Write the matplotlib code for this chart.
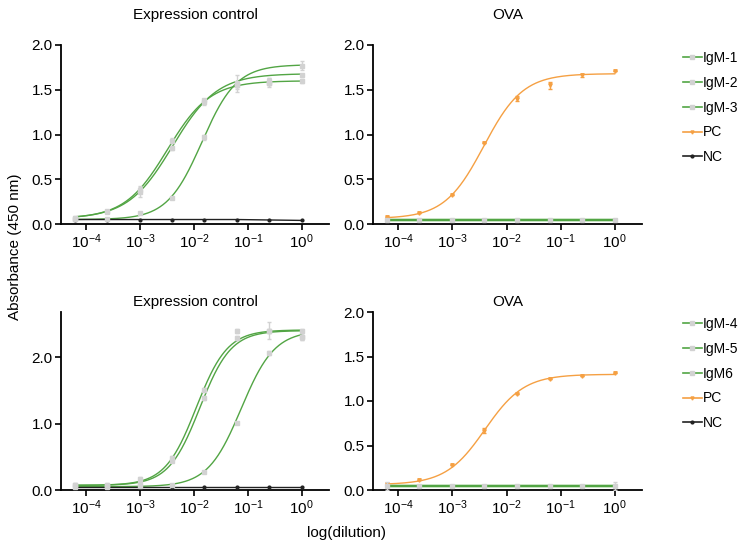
import numpy as np
import matplotlib
matplotlib.use('Agg')
import matplotlib.pyplot as plt
from matplotlib.lines import Line2D
from matplotlib.ticker import FixedLocator, NullLocator

plt.rcParams['font.family'] = ['Liberation Sans', 'DejaVu Sans']
plt.rcParams['mathtext.fontset'] = 'custom'
plt.rcParams['mathtext.rm'] = 'Liberation Sans'
plt.rcParams['mathtext.it'] = 'Liberation Sans:italic'
plt.rcParams['mathtext.bf'] = 'Liberation Sans:bold'

# ---------------- data ----------------
dilution = [6.1e-5, 2.44e-4, 9.77e-4, 3.91e-3, 1.5625e-2, 6.25e-2, 0.25, 1.0]
xtick_vals = [1e-4, 1e-3, 1e-2, 1e-1, 1e0]
xtick_labels = [r'$\mathregular{10^{-4}}$', r'$\mathregular{10^{-3}}$', r'$\mathregular{10^{-2}}$',
                r'$\mathregular{10^{-1}}$', r'$\mathregular{10^{0}}$']

# Top row: expression control
top_labels = ['IgM-1', 'IgM-2', 'IgM-3']
expr1_igm1 = [0.07, 0.14, 0.38, 0.93, 1.38, 1.55, 1.58, 1.60]
expr1_igm2 = [0.06, 0.13, 0.36, 0.85, 1.36, 1.57, 1.60, 1.67]
expr1_igm3 = [0.06, 0.06, 0.12, 0.29, 0.97, 1.55, 1.57, 1.77]
expr1_err1 = [0.02, 0.01, 0.03, 0.03, 0.02, 0.04, 0.05, 0.02]
expr1_err2 = [0.01, 0.01, 0.06, 0.02, 0.03, 0.09, 0.03, 0.01]
expr1_err3 = [0.01, 0.01, 0.01, 0.01, 0.03, 0.02, 0.02, 0.05]
expr1_nc = [0.05, 0.05, 0.05, 0.05, 0.05, 0.05, 0.045, 0.04]
# 4PL fit parameters: bottom, top, EC50, hill
fit_igm1 = [0.06, 1.60, 0.0032, 1.1]
fit_igm2 = [0.06, 1.68, 0.0040, 1.05]
fit_igm3 = [0.05, 1.78, 0.0140, 1.35]

# Top row: OVA
ova1_igm = [0.05, 0.05, 0.05, 0.05, 0.05, 0.05, 0.05, 0.05]
ova1_pc = [0.075, 0.127, 0.324, 0.91, 1.40, 1.55, 1.66, 1.71]
ova1_pc_err = [0.0, 0.0, 0.0, 0.0, 0.03, 0.04, 0.02, 0.0]
fit_pc1 = [0.06, 1.68, 0.0038, 1.2]

# Bottom row: expression control
bot_labels = ['IgM-4', 'IgM-5', 'IgM6']
expr2_igm4 = [0.08, 0.07, 0.16, 0.48, 1.51, 2.40, 2.40, 2.40]
expr2_igm5 = [0.07, 0.07, 0.11, 0.44, 1.38, 2.29, 2.40, 2.31]
expr2_igm6 = [0.05, 0.05, 0.06, 0.08, 0.27, 1.01, 2.07, 2.31]
expr2_err4 = [0.02, 0.02, 0.04, 0.03, 0.03, 0.03, 0.13, 0.02]
expr2_err5 = [0.02, 0.02, 0.02, 0.02, 0.03, 0.03, 0.03, 0.05]
expr2_err6 = [0.01, 0.01, 0.01, 0.01, 0.02, 0.02, 0.03, 0.05]
expr2_nc = [0.04, 0.04, 0.04, 0.04, 0.04, 0.04, 0.04, 0.04]
fit_igm4 = [0.07, 2.41, 0.0110, 1.5]
fit_igm5 = [0.07, 2.40, 0.0128, 1.5]
fit_igm6 = [0.05, 2.40, 0.0750, 1.4]

# Bottom row: OVA
ova2_igm = [0.045, 0.045, 0.045, 0.045, 0.045, 0.045, 0.045, 0.045]
ova2_igm_err = [0.05, 0.0, 0.0, 0.0, 0.0, 0.0, 0.0, 0.05]
ova2_pc = [0.067, 0.11, 0.28, 0.665, 1.08, 1.25, 1.28, 1.32]
ova2_pc_err = [0.0, 0.0, 0.0, 0.03, 0.0, 0.0, 0.0, 0.0]
fit_pc2 = [0.06, 1.30, 0.0040, 1.2]

# ---------------- styles ----------------
GREEN = '#52a544'
ORANGE = '#f5a043'
GREY = '#d2d2d2'
BLACK = '#222222'
FS = 11


def four_pl(x, p):
    b, t, ec, h = p
    return b + (t - b) / (1.0 + (ec / x) ** h)


xs = np.logspace(np.log10(dilution[0]), np.log10(dilution[-1]), 400)

fig = plt.figure(figsize=(7.41, 5.44), dpi=100)
W, H = 741.0, 544.0


def make_ax(x0, x1, y0, y1):
    return fig.add_axes([x0 / W, 1 - y1 / H, (x1 - x0) / W, (y1 - y0) / H])


ax_tl = make_ax(61, 329, 45, 224)
ax_tr = make_ax(373, 642, 45, 224)
ax_bl = make_ax(61, 329, 312, 490)
ax_br = make_ax(373, 642, 312, 490)


def style(ax, ylim, yticks):
    ax.set_xscale('log')
    ax.set_xlim(3.4e-5, 3.2)
    ax.set_ylim(*ylim)
    ax.xaxis.set_major_locator(FixedLocator(xtick_vals))
    ax.set_xticklabels(xtick_labels)
    ax.xaxis.set_minor_locator(NullLocator())
    ax.set_yticks(yticks)
    ax.set_yticklabels(['%.1f' % v for v in yticks])
    for s in ['top', 'right']:
        ax.spines[s].set_visible(False)
    for s in ['left', 'bottom']:
        ax.spines[s].set_linewidth(1.3)
        ax.spines[s].set_color('black')
    ax.tick_params(direction='out', length=4, width=1.2, labelsize=FS, pad=2, colors='black')


def points(ax, y, err):
    ax.errorbar(dilution, y, yerr=err, fmt='s', ms=3.0, color=GREY, ecolor=GREY,
                elinewidth=1.0, capsize=1.5, capthick=1.0, mec=GREY, zorder=4)


def nc(ax, y):
    ax.plot(dilution, y, '-', color=BLACK, lw=1.0, marker='o', ms=2.0, zorder=3)


# Top-left
style(ax_tl, (0, 2.0), [0.0, 0.5, 1.0, 1.5, 2.0])
nc(ax_tl, expr1_nc)
for fp in [fit_igm1, fit_igm2, fit_igm3]:
    ax_tl.plot(xs, four_pl(xs, fp), color=GREEN, lw=1.0, zorder=2)
for y, e in [(expr1_igm1, expr1_err1), (expr1_igm2, expr1_err2), (expr1_igm3, expr1_err3)]:
    points(ax_tl, y, e)

# Top-right
style(ax_tr, (0, 2.0), [0.0, 0.5, 1.0, 1.5, 2.0])
ax_tr.plot(xs, four_pl(xs, fit_pc1), color=ORANGE, lw=1.0, zorder=2)
ax_tr.errorbar(dilution, ova1_pc, yerr=ova1_pc_err, fmt='v', ms=2.5, color=ORANGE,
               elinewidth=1.0, capsize=1.5, zorder=3)
points(ax_tr, ova1_igm, [0.0] * len(dilution))
for _ in top_labels:
    ax_tr.plot(dilution, ova1_igm, color=GREEN, lw=1.6, zorder=3)

# Bottom-left
style(ax_bl, (0, 2.68), [0.0, 1.0, 2.0])
nc(ax_bl, expr2_nc)
for fp in [fit_igm4, fit_igm5, fit_igm6]:
    ax_bl.plot(xs, four_pl(xs, fp), color=GREEN, lw=1.0, zorder=2)
for y, e in [(expr2_igm4, expr2_err4), (expr2_igm5, expr2_err5), (expr2_igm6, expr2_err6)]:
    points(ax_bl, y, e)

# Bottom-right
style(ax_br, (0, 2.0), [0.0, 0.5, 1.0, 1.5, 2.0])
ax_br.plot(xs, four_pl(xs, fit_pc2), color=ORANGE, lw=1.0, zorder=2)
ax_br.errorbar(dilution, ova2_pc, yerr=ova2_pc_err, fmt='v', ms=2.5, color=ORANGE,
               elinewidth=1.0, capsize=1.5, zorder=3)
points(ax_br, ova2_igm, ova2_igm_err)
for _ in bot_labels:
    ax_br.plot(dilution, ova2_igm, color=GREEN, lw=1.6, zorder=3)

# Titles
ax_tl.set_title('Expression control', fontsize=FS, pad=19)
ax_tr.set_title('OVA', fontsize=FS, pad=19)
ax_bl.set_title('Expression control', fontsize=FS, pad=4)
ax_br.set_title('OVA', fontsize=FS, pad=4)

# Axis labels
fig.text(15 / W, 1 - 247 / H, 'Absorbance (450 nm)', rotation=90, ha='center', va='center', fontsize=FS)
fig.text(346 / W, 1 - 533 / H, 'log(dilution)', ha='center', va='center', fontsize=FS)


# Legends
def legend_handles(labels):
    hs = []
    for lab in labels:
        hs.append(Line2D([], [], color=GREEN, lw=1.2, marker='s', ms=2.5, mfc=GREY, mec=GREY))
    hs.append(Line2D([], [], color=ORANGE, lw=1.2, marker='v', ms=2.2))
    hs.append(Line2D([], [], color=BLACK, lw=1.2, marker='o', ms=2.0))
    return hs


for labels, ytop in [(top_labels, 51), (bot_labels, 317)]:
    fig.legend(legend_handles(labels), labels + ['PC', 'NC'], loc='upper left',
               bbox_to_anchor=(683 / W, 1 - ytop / H), frameon=False, fontsize=10,
               handlelength=1.35, handletextpad=0.1, labelspacing=0.78, borderpad=0,
               borderaxespad=0)

fig.savefig('out.png', dpi=100)
